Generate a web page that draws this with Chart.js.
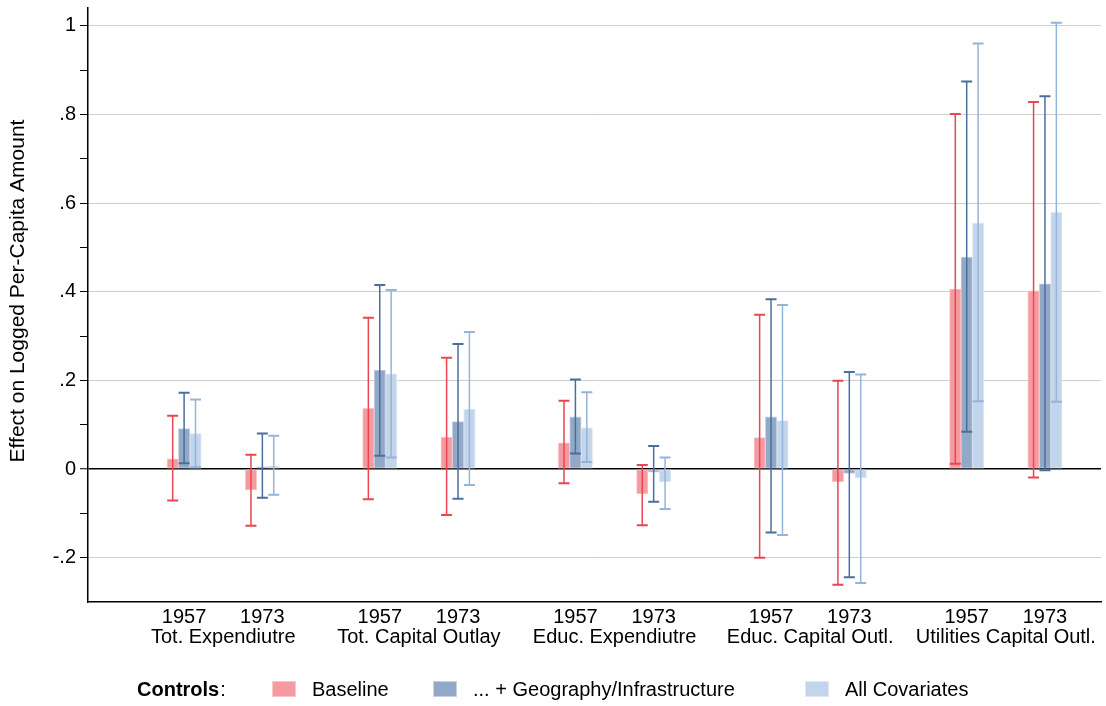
<!DOCTYPE html>
<html>
<head>
<meta charset="utf-8">
<script src="https://cdn.jsdelivr.net/npm/chart.js@4.4.1/dist/chart.umd.min.js"></script>
<style>
  html, body { margin: 0; padding: 0; background: #fff; }
  #grafico { display: block; }
</style>
</head>
<body>
<canvas id="grafico" width="1106" height="706"></canvas>
<script>
// Categorias e anos (cada categoria tem 1957 e 1973)
const categorias = ['Tot. Expendiutre', 'Tot. Capital Outlay', 'Educ. Expendiutre', 'Educ. Capital Outl.', 'Utilities Capital Outl.']
const anos = ['1957', '1973']
const nomesSeries = ['Baseline', '... + Geography/Infrastructure', 'All Covariates']
const tituloY = 'Effect on Logged Per-Capita Amount'

// Estimativas e intervalos, na ordem: cat1-1957, cat1-1973, cat2-1957, ...
const baseline = [0.023, -0.047, 0.137, 0.072, 0.059, -0.056, 0.071, -0.029, 0.406, 0.402]
const baselineBaixo = [-0.071, -0.128, -0.068, -0.104, -0.032, -0.127, -0.200, -0.261, 0.012, -0.019]
const baselineAlto = [0.120, 0.032, 0.341, 0.251, 0.154, 0.009, 0.348, 0.199, 0.801, 0.828]

const geografia = [0.091, 0.005, 0.223, 0.107, 0.118, -0.007, 0.118, -0.010, 0.478, 0.418]
const geografiaBaixo = [0.013, -0.065, 0.030, -0.067, 0.035, -0.074, -0.143, -0.244, 0.084, -0.003]
const geografiaAlto = [0.172, 0.080, 0.415, 0.282, 0.202, 0.052, 0.383, 0.219, 0.874, 0.841]

const todas = [0.080, 0.007, 0.215, 0.135, 0.093, -0.029, 0.109, -0.020, 0.555, 0.579]
const todasBaixo = [0.004, -0.058, 0.026, -0.036, 0.016, -0.090, -0.149, -0.257, 0.153, 0.152]
const todasAlto = [0.157, 0.075, 0.404, 0.309, 0.173, 0.026, 0.370, 0.213, 0.960, 1.007]

const ticksY = [-0.2, -0.1, 0, 0.1, 0.2, 0.3, 0.4, 0.5, 0.6, 0.7, 0.8, 0.9, 1]

// posição no eixo x: pares de anos juntos, espaço maior entre categorias
function posicaoX(i) {
  return Math.floor(i / 2) * 2.5 + (i % 2)
}
const posicoes = baseline.map((v, i) => posicaoX(i))
const posicoesCategorias = categorias.map((c, k) => k * 2.5 + 0.5)

function pontos(valores) {
  return valores.map((v, i) => ({ x: posicoes[i], y: v }))
}

const cores = [
  { fundo: '#f59aa0', borda: '#f9c6c9', erro: '#ea4550' },
  { fundo: '#91a8c6', borda: '#c6d2e2', erro: '#4b6f9d' },
  { fundo: '#c2d5eb', borda: '#dfe8f4', erro: '#95b4d9' }
]

function ehMaior(v) {
  return Math.round(v * 10) % 2 === 0
}

function formatarTick(v) {
  if (Math.abs(v) < 1e-9) return '0'
  return String(Number(v.toFixed(1))).replace('0.', '.')
}

// Barras de erro desenhadas por cima das barras
const pluginErros = {
  id: 'barrasErro',
  afterDatasetsDraw(chart) {
    const ctx = chart.ctx
    const y = chart.scales.y
    chart.data.datasets.forEach((ds, d) => {
      const meta = chart.getDatasetMeta(d)
      ctx.save()
      ctx.strokeStyle = cores[d].erro
      meta.data.forEach((barra, i) => {
        const x = barra.x
        const topo = y.getPixelForValue(ds.erroAlto[i])
        const fundo = y.getPixelForValue(ds.erroBaixo[i])
        const meia = 5.5
        ctx.lineWidth = 1.5
        ctx.beginPath()
        ctx.moveTo(x, topo)
        ctx.lineTo(x, fundo)
        ctx.stroke()
        ctx.lineWidth = 2
        ctx.beginPath()
        ctx.moveTo(x - meia, topo)
        ctx.lineTo(x + meia, topo)
        ctx.moveTo(x - meia, fundo)
        ctx.lineTo(x + meia, fundo)
        ctx.stroke()
      })
      ctx.restore()
    })
  }
}

// Legenda no estilo do Stata + título do eixo y
const pluginLegenda = {
  id: 'legendaControles',
  afterDraw(chart) {
    const ctx = chart.ctx
    const yTexto = 696
    ctx.save()
    ctx.fillStyle = '#000'
    ctx.textBaseline = 'alphabetic'
    ctx.textAlign = 'left'
    ctx.font = 'bold 20px "Liberation Sans", Arial, sans-serif'
    ctx.fillText('Controls', 137, yTexto)
    const larg = ctx.measureText('Controls').width
    ctx.font = '20px "Liberation Sans", Arial, sans-serif'
    ctx.fillText(':', 137 + larg + 1, yTexto)

    const xsQuadro = [272, 433, 805]
    const xsTexto = [312, 473, 845]
    nomesSeries.forEach((nome, s) => {
      ctx.fillStyle = cores[s].fundo
      ctx.fillRect(xsQuadro[s], 681, 24, 16)
      ctx.strokeStyle = cores[s].borda
      ctx.lineWidth = 1
      ctx.strokeRect(xsQuadro[s] + 0.5, 681.5, 23, 15)
      ctx.fillStyle = '#000'
      ctx.fillText(nome, xsTexto[s], yTexto)
    })

    // título do eixo y
    ctx.translate(18, 291)
    ctx.rotate(-Math.PI / 2)
    ctx.textAlign = 'center'
    ctx.textBaseline = 'middle'
    ctx.font = '21px "Liberation Sans", Arial, sans-serif'
    ctx.fillText(tituloY, 0, 0)
    ctx.restore()
  }
}

const fonte = { family: '"Liberation Sans", Arial, sans-serif', size: 20 }
const xMin = -1.228
const xMax = 11.716

const graficoBarras = new Chart(document.getElementById('grafico'), {
  type: 'bar',
  data: {
    datasets: [
      { label: nomesSeries[0], data: pontos(baseline), erroBaixo: baselineBaixo, erroAlto: baselineAlto },
      { label: nomesSeries[1], data: pontos(geografia), erroBaixo: geografiaBaixo, erroAlto: geografiaAlto },
      { label: nomesSeries[2], data: pontos(todas), erroBaixo: todasBaixo, erroAlto: todasAlto }
    ].map((ds, d) => Object.assign(ds, {
      backgroundColor: cores[d].fundo,
      borderColor: cores[d].borda,
      borderWidth: 1,
      borderSkipped: false,
      barThickness: 11.4,
      xAxisID: 'x'
    }))
  },
  options: {
    responsive: false,
    animation: false,
    events: [],
    layout: { padding: { top: 8, right: 5, bottom: 58, left: 0 } },
    plugins: {
      legend: { display: false },
      tooltip: { enabled: false }
    },
    scales: {
      x: {
        type: 'linear',
        position: 'bottom',
        min: xMin,
        max: xMax,
        offset: false,
        weight: 0,
        grid: { display: false, drawTicks: false },
        border: { display: true, color: '#000', width: 1.5 },
        afterBuildTicks: (scale) => { scale.ticks = posicoes.map(v => ({ value: v })) },
        afterFit: (scale) => { scale.height = 22 },
        ticks: {
          autoSkip: false,
          maxRotation: 0,
          padding: 3,
          color: '#000',
          font: fonte,
          callback: (v, i) => anos[i % 2]
        }
      },
      x2: {
        type: 'linear',
        position: 'bottom',
        min: xMin,
        max: xMax,
        offset: false,
        weight: 1,
        grid: { display: false, drawTicks: false },
        border: { display: false },
        afterBuildTicks: (scale) => { scale.ticks = posicoesCategorias.map(v => ({ value: v })) },
        afterFit: (scale) => { scale.height = 24 },
        ticks: {
          autoSkip: false,
          maxRotation: 0,
          padding: 1,
          color: '#000',
          font: fonte,
          callback: (v, i) => categorias[i]
        }
      },
      y: {
        min: -0.3,
        max: 1.04,
        afterBuildTicks: (scale) => { scale.ticks = ticksY.map(v => ({ value: v })) },
        afterFit: (scale) => {
          scale.width = 88
          scale.paddingTop = 0
          scale.paddingBottom = 0
        },
        border: { display: true, color: '#000', width: 1.5 },
        grid: {
          drawTicks: true,
          tickLength: 8,
          tickColor: '#000',
          tickWidth: 1,
          color: (c) => {
            const v = c.tick ? c.tick.value : 1
            if (Math.abs(v) < 1e-9) return '#000'
            return ehMaior(v) ? '#cfcfcf' : 'rgba(0,0,0,0)'
          },
          lineWidth: (c) => {
            const v = c.tick ? c.tick.value : 1
            return Math.abs(v) < 1e-9 ? 1.5 : 1
          }
        },
        title: { display: false },
        ticks: {
          autoSkip: false,
          padding: 4,
          color: '#000',
          font: fonte,
          callback: (v) => ehMaior(v) ? formatarTick(v) : ''
        }
      }
    }
  },
  plugins: [pluginErros, pluginLegenda]
})
</script>
</body>
</html>
